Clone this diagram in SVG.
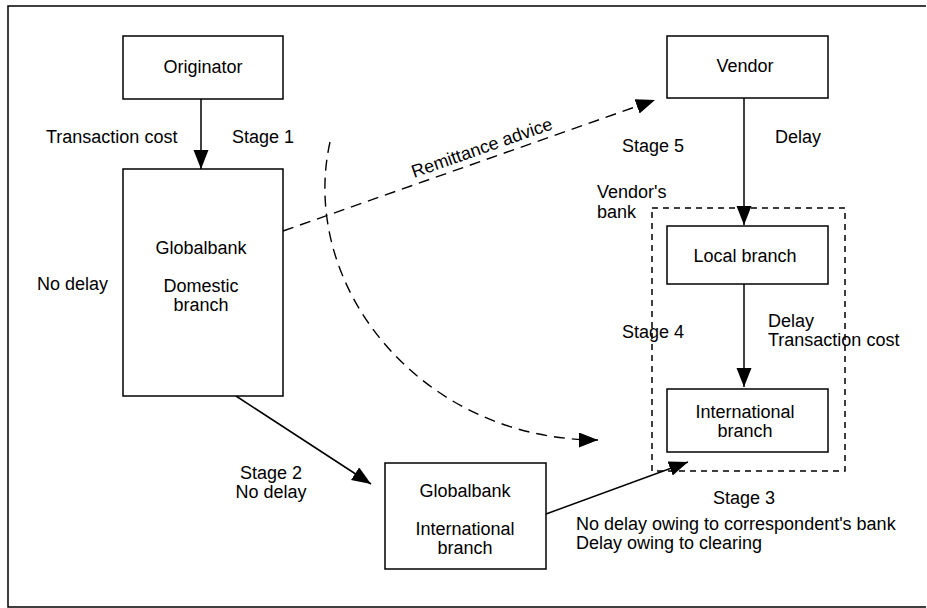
<svg xmlns="http://www.w3.org/2000/svg" width="927" height="608" viewBox="0 0 927 608">
<style>
  .box { fill: #fff; stroke: #000; stroke-width: 1.5; }
  .t { font-family: "Liberation Sans", Arial, sans-serif; font-size: 18px; fill: #000; }
  .c { text-anchor: middle; }
  .edge { fill: none; stroke: #000; stroke-width: 1.5; }
  .dash { fill: none; stroke: #000; stroke-width: 1.4; stroke-dasharray: 11 7; }
</style>
<defs>
  <marker id="arrow" markerUnits="userSpaceOnUse" markerWidth="20" markerHeight="16" refX="19" refY="7.5" orient="auto">
    <path d="M0,0 L19,7.5 L0,15 z" fill="#000"/>
  </marker>
</defs>
<rect width="927" height="608" fill="#fff"/>
<path d="M926,6 H8 V607 H926" fill="none" stroke="#000" stroke-width="1.5"/>

<g id="connectors">
  <line class="edge" x1="201" y1="99" x2="201" y2="169" marker-end="url(#arrow)"/>
  <line class="edge" x1="744" y1="98" x2="744" y2="225" marker-end="url(#arrow)"/>
  <line class="edge" x1="744" y1="284" x2="744" y2="387" marker-end="url(#arrow)"/>
  <line class="edge" x1="236" y1="396" x2="371" y2="484" marker-end="url(#arrow)"/>
  <line class="edge" x1="546" y1="514" x2="688" y2="462" marker-end="url(#arrow)"/>
  <line class="dash" x1="283" y1="231" x2="655" y2="100" marker-end="url(#arrow)"/>
  <path class="dash" d="M330,142 C298,285 420,440 598,440" marker-end="url(#arrow)"/>
  <text class="t" x="414" y="178" transform="rotate(-19.4 414 178)">Remittance advice</text>
</g>

<g id="vendors-bank">
  <rect x="652" y="208" width="193" height="263" fill="none" stroke="#000" stroke-width="1.5" stroke-dasharray="6 5"/>
  <text class="t" x="597" y="198">Vendor's</text>
  <text class="t" x="597" y="218">bank</text>
</g>

<g id="originator">
  <rect class="box" x="123" y="36" width="160" height="63"/>
  <text class="t c" x="203" y="73">Originator</text>
</g>

<g id="domestic">
  <rect class="box" x="123" y="169" width="160" height="227"/>
  <text class="t c" x="201" y="254">Globalbank</text>
  <text class="t c" x="201" y="292">Domestic</text>
  <text class="t c" x="201" y="311">branch</text>
</g>

<g id="vendor">
  <rect class="box" x="667" y="36" width="161" height="62"/>
  <text class="t c" x="745" y="72">Vendor</text>
</g>

<g id="local-branch">
  <rect class="box" x="667" y="226" width="161" height="58"/>
  <text class="t c" x="745" y="262">Local branch</text>
</g>

<g id="intl-branch">
  <rect class="box" x="667" y="389" width="161" height="63"/>
  <text class="t c" x="745" y="418">International</text>
  <text class="t c" x="745" y="437">branch</text>
</g>

<g id="globalbank-intl">
  <rect class="box" x="385" y="463" width="161" height="106"/>
  <text class="t c" x="465" y="497">Globalbank</text>
  <text class="t c" x="465" y="535">International</text>
  <text class="t c" x="465" y="554">branch</text>
</g>

<g id="labels">
  <text class="t" x="46" y="143">Transaction cost</text>
  <text class="t" x="232" y="143">Stage 1</text>
  <text class="t" x="37" y="290">No delay</text>
  <text class="t" x="775" y="143">Delay</text>
  <text class="t" x="622" y="152">Stage 5</text>
  <text class="t" x="622" y="338">Stage 4</text>
  <text class="t" x="768" y="327">Delay</text>
  <text class="t" x="768" y="346">Transaction cost</text>
  <text class="t c" x="271" y="479">Stage 2</text>
  <text class="t c" x="271" y="498">No delay</text>
  <text class="t c" x="744" y="504">Stage 3</text>
  <text class="t" x="576" y="530">No delay owing to correspondent's bank</text>
  <text class="t" x="576" y="549">Delay owing to clearing</text>
</g>
</svg>
